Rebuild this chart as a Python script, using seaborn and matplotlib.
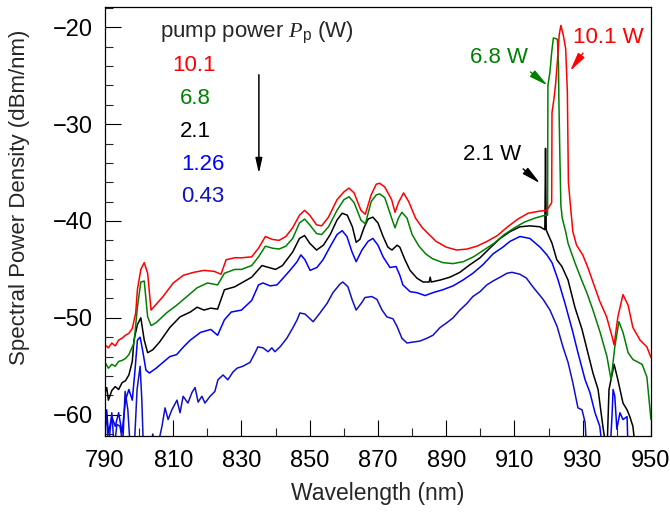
"""
Spectral power density of the fibre laser output for several pump powers
"""

import matplotlib
matplotlib.use("Agg")
import matplotlib.pyplot as plt
from matplotlib.ticker import MultipleLocator
import seaborn as sns

# Style
sns.set_style("ticks")
plt.rcParams["font.family"] = ["Liberation Sans", "DejaVu Sans"]
plt.rcParams["mathtext.fontset"] = "custom"
plt.rcParams["mathtext.rm"] = "Liberation Sans"
plt.rcParams["mathtext.it"] = "Liberation Serif:italic"

# Data (wavelength in nm, PSD in dBm/nm)
pump_labels = ["10.1", "6.8", "2.1", "1.26", "0.43"]
pump_colors = ["#ff0000", "#008000", "#000000", "#0000ff", "#1010c8"]
x_ticks = [790, 810, 830, 850, 870, 890, 910, 930, 950]

wl_101 = [790, 791, 792, 793, 794, 795, 796, 797, 798, 799, 799.5, 800.5, 801.5, 802.5, 803.5,
          805, 807, 810, 813, 816, 819, 822, 824, 825.5, 828, 830, 833, 835, 837, 839, 841, 843,
          845, 847, 848.5, 850, 852, 853.5, 855.5, 858, 860, 861.5, 863, 865, 866.3, 868, 869.5,
          870.5, 872, 874, 875, 876, 877.5, 879, 881, 883, 885, 887, 890, 893, 896, 899, 902,
          905, 908, 911, 914, 917, 919.5, 920.9, 921.0, 921.6, 922.1, 922.7, 923.1, 923.6, 924.3,
          925.0, 925.5, 925.8, 926.3, 927.1, 928.2, 930, 931.5, 933, 935, 937, 938.5, 939.2,
          940.3, 941.8, 943.3, 944.7, 946.8, 948.8, 950]
psd_101 = [-52.8, -53.1, -52.6, -52.9, -52.3, -52.1, -51.8, -51.6, -51.1, -49.5, -47.1, -45.0,
           -44.3, -45.4, -49.2, -48.6, -47.8, -46.4, -45.6, -45.3, -45.1, -45.2, -45.5, -44.0,
           -43.8, -43.8, -43.7, -42.8, -41.6, -41.9, -42.0, -41.6, -40.7, -39.4, -38.9, -39.4,
           -40.4, -40.5, -39.6, -37.8, -37.0, -36.6, -37.1, -38.9, -39.3, -37.3, -36.2, -36.1,
           -36.5, -37.8, -39.1, -38.1, -37.1, -38.0, -39.7, -40.7, -41.4, -42.1, -42.7, -43.0,
           -42.9, -42.6, -42.1, -41.5, -40.6, -39.8, -39.2, -39.0, -38.9, -38.1, -28.8, -27.3,
           -25.7, -22.9, -20.8, -19.8, -20.8, -22.2, -26.7, -36.0, -38.0, -41.1, -42.5, -43.5,
           -44.8, -46.3, -48.3, -49.9, -51.8, -52.8, -49.9, -47.6, -48.7, -51.0, -52.3, -53.0,
           -54.1]

wl_68 = [790, 791, 792, 793, 794, 795, 796, 797, 798.5, 799.5, 800.5, 801.5, 802.5, 803.5, 805,
         808, 811, 814, 817, 820, 823, 825, 828, 830, 833, 835, 837, 839, 841, 843, 845, 847,
         848.5, 850, 852, 853.5, 855.5, 858, 860, 861.5, 863, 865, 866.3, 868, 869.5, 870.5,
         872, 874, 875, 876, 877, 878.5, 880, 882, 884, 886, 889, 892, 895, 898, 901, 904, 907,
         910, 913, 916, 919, 919.7, 919.8, 920.4, 920.9, 921.4, 922.4, 922.6, 922.9, 923.0,
         923.3, 923.6, 924.0, 925.0, 925.7, 927.7, 929.8, 931.2, 933, 935.1, 937.1, 938.3,
         939.4, 940.6, 941.8, 943.3, 944.7, 947.4, 948.8, 950]
psd_68 = [-54.6, -55.2, -54.8, -55.0, -54.5, -54.4, -54.2, -53.8, -52.6, -48.9, -46.3, -46.2,
          -49.9, -50.8, -50.5, -49.5, -48.7, -47.8, -46.9, -46.4, -46.6, -45.4, -45.0, -45.0,
          -44.6, -43.7, -42.6, -42.8, -42.9, -42.6, -41.8, -40.2, -39.8, -40.4, -41.3, -41.4,
          -40.6, -38.9, -37.8, -37.5, -38.1, -39.9, -40.3, -38.0, -37.3, -37.2, -37.6, -39.7,
          -40.7, -39.7, -39.1, -39.7, -41.4, -42.6, -43.4, -43.9, -44.3, -44.4, -44.2, -43.7,
          -43.0, -42.3, -41.4, -40.7, -40.1, -39.7, -39.4, -39.4, -26.0, -24.6, -22.6, -21.1,
          -21.2, -21.3, -23.9, -27.3, -33.2, -38.4, -39.7, -41.1, -42.3, -44.3, -46.2, -47.4,
          -49.2, -51.5, -54.0, -56.4, -53.0, -50.4, -51.5, -53.6, -54.3, -54.8, -56.1, -60.5]

wl_21 = [790, 790.5, 791, 792, 793, 794, 795, 796, 797, 798, 798.5, 799.5, 800.5, 801.5, 802.5,
         804, 806, 809, 812, 815, 817, 819, 821, 823, 825, 828, 830, 833, 836, 838, 840, 842,
         845, 847, 848.5, 850, 852, 854, 856, 858, 859.5, 861, 862.5, 863.6, 864.7, 865.9,
         867.1, 868.5, 870, 871.5, 872.9, 874.1, 875.6, 876.4, 877.9, 879.4, 881.4, 883.2, 885,
         885.3, 885.6, 888.2, 891.1, 894, 897, 899.9, 902.8, 905.8, 908.7, 911.6, 914.5, 917.5,
         918.9, 919.1, 919.3, 919.5, 921, 922.4, 923.9, 925.7, 927.7, 929.8, 931.5, 933, 934.5,
         935.9, 937.1, 937.7, 939.2, 940.3, 941.8, 943, 943.8, 944.7, 945.6]
psd_21 = [-57.7, -57.2, -58.5, -57.5, -57.1, -57.4, -56.7, -56.5, -55.9, -54.5, -52.3, -50.7,
          -50.0, -52.3, -53.6, -53.3, -52.5, -51.0, -49.9, -49.4, -48.9, -49.2, -49.0, -49.1,
          -47.1, -46.8, -46.4, -45.8, -44.6, -44.8, -45.0, -44.6, -43.2, -41.8, -41.5, -42.3,
          -43.0, -42.5, -41.4, -39.9, -39.2, -39.4, -40.6, -42.2, -41.9, -40.7, -39.8, -39.6,
          -40.2, -41.6, -42.7, -43.0, -42.5, -42.7, -44.0, -45.1, -45.9, -46.3, -46.3, -45.8,
          -46.3, -46.1, -45.8, -45.3, -44.5, -43.8, -42.8, -41.8, -41.1, -40.6, -40.5, -40.6,
          -40.9, -32.5, -40.9, -41.1, -42.3, -44.0, -44.7, -46.1, -48.9, -51.2, -53.6, -55.7,
          -57.4, -61.2, -64.0, -57.4, -54.8, -56.4, -58.8, -59.5, -60.2, -61.2, -64.0]

wl_126 = [790, 790.5, 791, 792, 793, 794, 795, 796, 797, 798, 798.8, 799.5, 800.3, 801, 802,
          803, 805, 807, 809, 811, 813, 815, 818, 821, 823, 825, 827, 830, 833, 835, 836.3,
          838.4, 840.4, 842.2, 844.2, 846.3, 847.4, 848.6, 850.1, 852.1, 853.9, 855.9, 858,
          859.5, 860.9, 862.4, 863.6, 865.3, 867.1, 868.5, 870, 871.5, 873.5, 875.3, 876.4,
          877.3, 879.4, 881.4, 883.8, 886.1, 889, 892, 894.9, 897.8, 900.8, 903.7, 906.6, 908.7,
          911.6, 914.5, 917.5, 919.5, 921, 922.7, 924.8, 926.9, 928.6, 930.7, 932.1, 933.6, 935,
          935.9, 938, 938.6, 938.9, 939.4, 940, 940.9, 941.8, 943, 943.3]
psd_126 = [-60.5, -59.5, -61.9, -60.2, -61.2, -59.8, -61.9, -58.5, -57.4, -58.5, -55.4, -52.3,
           -52.0, -53.3, -55.4, -55.7, -55.2, -54.6, -54.0, -53.8, -53.0, -52.3, -51.5, -51.2,
           -51.8, -50.2, -49.4, -49.2, -48.2, -46.6, -46.4, -46.7, -46.6, -45.9, -45.1, -44.2,
           -43.5, -44.0, -45.1, -44.8, -44.0, -42.7, -41.4, -41.0, -41.6, -43.2, -44.2, -43.0,
           -42.1, -41.8, -42.5, -43.7, -44.8, -44.7, -45.6, -46.6, -47.3, -47.4, -47.7, -47.4,
           -47.1, -46.7, -46.1, -45.4, -44.5, -43.4, -42.7, -42.1, -41.6, -41.8, -42.7, -43.5,
           -44.3, -46.0, -48.5, -51.2, -53.6, -56.4, -57.7, -59.8, -61.2, -64.0, -64.0, -60.0,
           -57.4, -58.1, -61.5, -59.8, -60.5, -60.2, -64.0]

wl_043 = [790, 790.5, 791, 792, 792.7, 793.5, 794.4, 795.2, 795.9, 796.7, 797.5, 798.5, 799.4,
          800.3, 800.8, 801.3, 803, 804, 805, 806.7, 807.6, 808.5, 809.6, 811.1, 812, 812.9,
          814.3, 815.5, 816.4, 817.3, 818.4, 819.3, 820.8, 822.2, 823.1, 824.6, 826, 827.5,
          828.7, 830.4, 832.5, 834, 834.8, 836.3, 837.8, 838.9, 839.8, 841.3, 843.3, 845.1,
          846.3, 847.1, 848.6, 850.1, 851, 853, 855.1, 856.8, 858.9, 859.7, 861.2, 862.4, 863.6,
          865.3, 866.2, 868.2, 869.7, 871.2, 872.6, 874.4, 875.6, 877, 878.5, 880.3, 882.3,
          884.4, 886.1, 888.2, 890.2, 892, 894, 896.1, 897.8, 899.9, 901.9, 903.7, 905.8, 907.8,
          909.3, 911.6, 913.5, 915.4, 918.4, 920.4, 922.5, 924.2, 925.7, 927.1, 928.6, 929.8,
          930.7, 931.2]
psd_043 = [-61.5, -60.0, -63.5, -59.8, -63.5, -61.0, -61.2, -63.0, -57.6, -59.5, -64.0, -64.0,
           -57.4, -55.0, -58.5, -64.0, -64.0, -62.0, -64.0, -61.2, -59.3, -60.5, -59.5, -58.5,
           -59.8, -58.1, -58.8, -57.7, -57.2, -58.7, -58.1, -58.8, -58.1, -57.6, -56.4, -55.9,
           -56.4, -55.6, -55.2, -55.0, -54.6, -53.6, -53.0, -53.1, -53.5, -53.1, -53.5, -53.0,
           -52.1, -51.0, -50.2, -49.5, -49.6, -50.1, -50.4, -49.5, -48.5, -47.4, -46.5, -46.3,
           -46.8, -48.1, -49.2, -48.4, -47.9, -47.8, -48.1, -49.2, -49.9, -50.1, -50.9, -52.1,
           -52.6, -52.5, -52.4, -52.1, -51.8, -51.0, -50.5, -50.0, -49.2, -48.5, -47.8, -47.3,
           -46.6, -46.2, -45.8, -45.4, -45.3, -45.5, -45.9, -46.8, -48.1, -49.2, -50.9, -53.0,
           -54.6, -56.7, -59.3, -59.5, -60.8, -64.0]

series = [(wl_101, psd_101), (wl_68, psd_68), (wl_21, psd_21), (wl_126, psd_126), (wl_043, psd_043)]

# Figure
fig = plt.figure(figsize=(6.7, 5.14), dpi=100)
ax = fig.add_axes([0.1567, 0.1518, 0.8149, 0.8346])

# lowest power drawn first so the bright curves sit on top
for (wl, psd), col in reversed(list(zip(series, pump_colors))):
    sns.lineplot(x=wl, y=psd, ax=ax, color=col, lw=1.1, estimator=None, sort=False)

ax.set_xlim(790, 950)
ax.set_ylim(-62.2, -17.9)
ax.set_xticks(x_ticks)
ax.xaxis.set_minor_locator(MultipleLocator(10))
ax.yaxis.set_major_locator(MultipleLocator(10))
ax.yaxis.set_minor_locator(MultipleLocator(2))
ax.tick_params(which="major", direction="in", length=11.5, width=0.8, labelsize=17,
               top=False, right=False, colors="black")
ax.tick_params(axis="x", which="major", pad=10)
ax.tick_params(axis="y", which="major", pad=9)
ax.tick_params(which="minor", direction="in", length=6, width=0.8, top=False, right=False)
for sp in ax.spines.values():
    sp.set_visible(True)
    sp.set_linewidth(0.9)
    sp.set_color("black")

ax.set_xlabel("Wavelength (nm)", fontsize=16.5)
ax.set_ylabel("Spectral Power Density (dBm/nm)", fontsize=16)
ax.xaxis.set_label_coords(0.5, -0.133)
ax.xaxis.label.set_va("center")
ax.yaxis.set_label_coords(-0.156, 0.557)
ax.yaxis.label.set_va("center")

# Pump power key
ax.text(806.1, -21.0, r"pump power $P_\mathrm{p}$ (W)", fontsize=16, ha="left", va="baseline")
key_x = [809.6, 812.0, 812.0, 812.3, 812.3]
key_y = [-24.5, -27.9, -31.3, -34.7, -38.0]
for lab, col, kx, ky in zip(pump_labels, pump_colors, key_x, key_y):
    ax.text(kx, ky, lab, color=col, fontsize=16, ha="left", va="baseline")
ax.annotate("", xy=(835.1, -35.1), xytext=(835.1, -24.9),
            arrowprops=dict(arrowstyle="-|>,head_length=0.9,head_width=0.2", color="black",
                            lw=1.1, shrinkA=0, shrinkB=0))

# Lasing line annotations
head = "-|>,head_length=0.7,head_width=0.15"
ax.annotate("6.8 W", xy=(919.7, -26.0), xytext=(897.0, -23.1), color="#008000", fontsize=16,
            va="center", ha="left",
            arrowprops=dict(arrowstyle=head, color="#008000", lw=1.0,
                            shrinkA=1, shrinkB=0, relpos=(0.95, 0.0)))
ax.annotate("10.1 W", xy=(926.3, -24.5), xytext=(927.1, -21.0), color="#ff0000", fontsize=16,
            va="center", ha="left",
            arrowprops=dict(arrowstyle=head, color="#ff0000", lw=1.0,
                            shrinkA=2, shrinkB=0, relpos=(0.2, 0.0)))
ax.annotate("2.1 W", xy=(917.5, -36.1), xytext=(894.9, -33.1), color="black", fontsize=16,
            va="center", ha="left",
            arrowprops=dict(arrowstyle=head, color="black", lw=1.0,
                            shrinkA=1, shrinkB=0, relpos=(0.95, 0.0)))

fig.savefig("out.png", dpi=100)
